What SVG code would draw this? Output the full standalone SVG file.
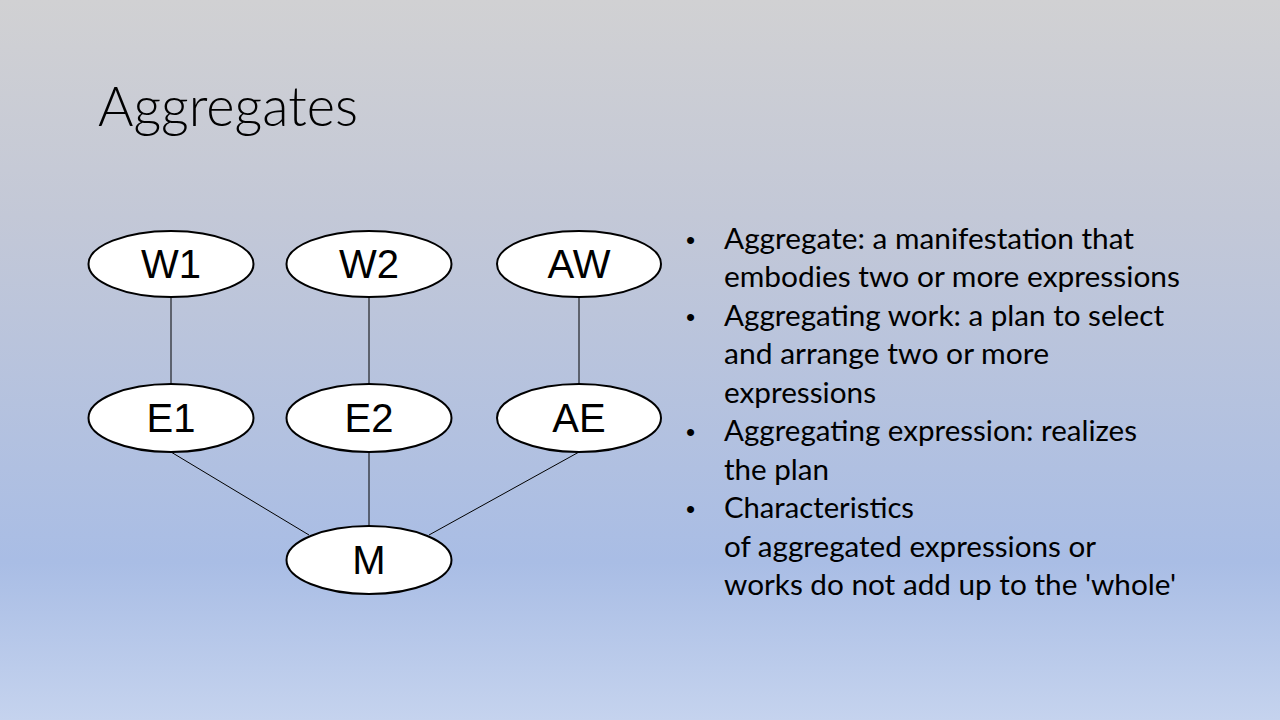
<svg xmlns="http://www.w3.org/2000/svg" width="1280" height="720" viewBox="0 0 1280 720">
  <defs>
    <linearGradient id="bg" x1="0" y1="0" x2="0" y2="1">
      <stop offset="0" stop-color="#d1d1d3"/>
      <stop offset="0.3" stop-color="#c3c8d7"/>
      <stop offset="0.78" stop-color="#a9bde5"/>
      <stop offset="1" stop-color="#c5d3ee"/>
    </linearGradient>
    <style>
      .node ellipse { fill: #ffffff; stroke: #000000; stroke-width: 2; }
      .node text { font-family: "Liberation Sans", Arial, sans-serif; font-size: 40px; fill: #000000; text-anchor: middle; }
      .edge { stroke: #000000; stroke-width: 1; fill: none; }
      .title { font-family: Lato, "Open Sans", sans-serif; font-weight: 300; font-size: 56px; fill: #000000; }
      .body { font-family: Lato, "Open Sans", sans-serif; font-size: 28px; fill: #000000; }
      .dot { font-family: "Liberation Sans", Arial, sans-serif; font-size: 26px; fill: #000000; }
    </style>
  </defs>

  <rect x="0" y="0" width="1280" height="720" fill="url(#bg)"/>

  <text class="title" x="98" y="126" textLength="260" lengthAdjust="spacingAndGlyphs">Aggregates</text>

  <!-- connectors -->
  <g id="connectors">
    <line class="edge" x1="171" y1="297" x2="171" y2="384"/>
    <line class="edge" x1="369" y1="297" x2="369" y2="384"/>
    <line class="edge" x1="579" y1="297" x2="579" y2="384"/>
    <line class="edge" x1="171" y1="452" x2="309" y2="535"/>
    <line class="edge" x1="369" y1="452" x2="369" y2="526"/>
    <line class="edge" x1="579" y1="452" x2="429" y2="535"/>
  </g>

  <!-- nodes -->
  <g id="W1" class="node"><ellipse cx="171" cy="264" rx="82.5" ry="33"/><text x="171" y="278">W1</text></g>
  <g id="W2" class="node"><ellipse cx="369" cy="264" rx="82.5" ry="33"/><text x="369" y="278">W2</text></g>
  <g id="AW" class="node"><ellipse cx="579" cy="264" rx="82" ry="33"/><text x="579" y="278">AW</text></g>
  <g id="E1" class="node"><ellipse cx="171" cy="418" rx="82.5" ry="34"/><text x="171" y="432">E1</text></g>
  <g id="E2" class="node"><ellipse cx="369" cy="418" rx="82.5" ry="34"/><text x="369" y="432">E2</text></g>
  <g id="AE" class="node"><ellipse cx="579" cy="418" rx="82" ry="34"/><text x="579" y="432">AE</text></g>
  <g id="M" class="node"><ellipse cx="369" cy="560" rx="82.5" ry="34"/><text x="369" y="574">M</text></g>

  <!-- bullet list -->
  <g id="bullets" class="body">
    <text class="dot" x="686" y="249">•</text>
    <text x="724" y="249" textLength="410" lengthAdjust="spacingAndGlyphs">Aggregate: a manifestation that</text>
    <text x="724" y="287" textLength="456" lengthAdjust="spacingAndGlyphs">embodies two or more expressions</text>
    <text class="dot" x="686" y="326">•</text>
    <text x="724" y="326" textLength="440" lengthAdjust="spacingAndGlyphs">Aggregating work: a plan to select</text>
    <text x="724" y="364" textLength="325" lengthAdjust="spacingAndGlyphs">and arrange two or more</text>
    <text x="724" y="403" textLength="152" lengthAdjust="spacingAndGlyphs">expressions</text>
    <text class="dot" x="686" y="441">•</text>
    <text x="724" y="441" textLength="413" lengthAdjust="spacingAndGlyphs">Aggregating expression: realizes</text>
    <text x="724" y="480" textLength="105" lengthAdjust="spacingAndGlyphs">the plan</text>
    <text class="dot" x="686" y="518">•</text>
    <text x="724" y="518" textLength="190" lengthAdjust="spacingAndGlyphs">Characteristics</text>
    <text x="724" y="557" textLength="372" lengthAdjust="spacingAndGlyphs">of aggregated expressions or</text>
    <text x="724" y="595" textLength="452" lengthAdjust="spacingAndGlyphs">works do not add up to the 'whole'</text>
  </g>
</svg>
